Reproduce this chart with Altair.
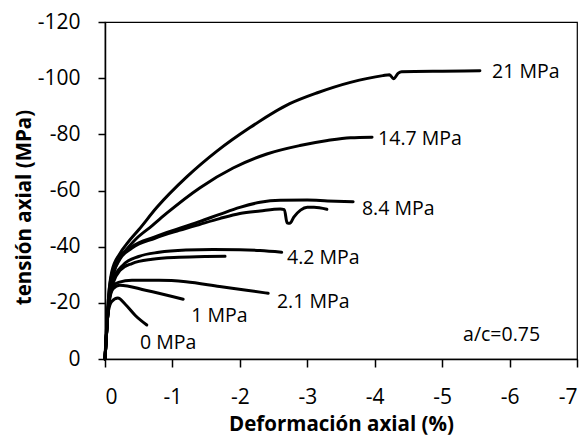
import altair as alt
import pandas as pd

# ---- data ----
x_0 = [0, -0.02, -0.05, -0.1, -0.19, -0.3, -0.45, -0.62]
y_0 = [0, -10, -17, -20.5, -21.7, -19.5, -15.5, -12.1]

x_1 = [0, -0.03, -0.06, -0.12, -0.22, -0.6, -1.16]
y_1 = [0, -12, -20, -25, -26.3, -24.5, -21.3]

x_21 = [0, -0.03, -0.06, -0.12, -0.2, -0.4, -0.8, -1.2, -1.7, -2.1, -2.42]
y_21 = [0, -12, -20, -26, -27.3, -28, -28, -27.5, -25.8, -24.5, -23.4]

x_42 = [0, -0.03, -0.06, -0.12, -0.27, -0.5, -0.8, -1.2, -1.6, -2.0, -2.3, -2.62]
y_42 = [0, -12, -21, -28, -33.5, -36.5, -38, -38.8, -39, -38.9, -38.6, -38.0]

x_42b = [0, -0.03, -0.06, -0.12, -0.22, -0.4, -0.7, -1.1, -1.5, -1.78]
y_42b = [0, -12, -21, -27, -31.5, -34, -35.5, -36.2, -36.5, -36.6]

x_84 = [0, -0.03, -0.06, -0.12, -0.22, -0.4, -0.74, -1.1, -1.41, -1.7, -2.0, -2.3, -2.6, -3.0, -3.3, -3.68]
y_84 = [0, -12, -22, -30, -36, -40, -43.5, -46.5, -49, -51.5, -54.0, -55.8, -56.5, -56.6, -56.3, -56.0]

x_84b = [0, -0.03, -0.06, -0.12, -0.22, -0.4, -0.74, -1.1, -1.41, -1.7, -2.0, -2.3, -2.6, -2.66,
         -2.70, -2.74, -2.8, -2.9, -3.0, -3.1, -3.29]
y_84b = [0, -12, -22, -30, -35.5, -39.5, -43, -45.8, -48, -50, -51.8, -52.7, -53.4, -53.2,
         -48.5, -48.3, -50.5, -53, -54, -54, -53.3]

x_147 = [0, -0.03, -0.05, -0.1, -0.2, -0.3, -0.47, -0.7, -0.92, -1.41, -1.9, -2.4, -2.89, -3.3, -3.64, -3.96]
y_147 = [0, -12, -21, -30, -35.5, -38.5, -43, -47.5, -52, -61, -68, -73, -76, -77.8, -78.8, -79]

x_210 = [0, -0.03, -0.05, -0.1, -0.22, -0.34, -0.5, -0.77, -1.22, -1.66, -2.15, -2.74, -3.15, -3.64,
         -4.12, -4.22, -4.28, -4.35, -4.4, -5.0, -5.56]
y_210 = [0, -12, -21, -31, -37.5, -41.5, -46, -54, -65, -74, -82.4, -90.9, -94.8, -98.5,
         -100.9, -101.2, -99.8, -101.8, -102.3, -102.5, -102.6]

series = {
    "0": (x_0, y_0), "1": (x_1, y_1), "2.1": (x_21, y_21), "4.2": (x_42, y_42),
    "4.2b": (x_42b, y_42b), "8.4": (x_84, y_84), "8.4b": (x_84b, y_84b),
    "14.7": (x_147, y_147), "21": (x_210, y_210),
}

label_text = ["21 MPa", "14.7 MPa", "8.4 MPa", "4.2 MPa", "2.1 MPa", "1 MPa", "0 MPa", "a/c=0.75"]
label_x = [-5.74, -4.05, -3.81, -2.70, -2.55, -1.28, -0.52, -5.31]
label_y = [-102.3, -78.5, -53.3, -35.9, -20.2, -15.3, -5.7, -8.5]

x_ticks = [0, -1, -2, -3, -4, -5, -6, -7]
y_ticks = [0, -20, -40, -60, -80, -100, -120]

rows = []
for name, (xs, ys) in series.items():
    for i, (xv, yv) in enumerate(zip(xs, ys)):
        rows.append({"s": name, "i": i, "x": xv, "y": yv})
df = pd.DataFrame(rows)
lab = pd.DataFrame({"t": label_text, "x": label_x, "y": label_y})

FONT = "Open Sans"

xscale = alt.Scale(domain=[-7, 0], reverse=True, nice=False, zero=False)
yscale = alt.Scale(domain=[-120, 0], reverse=True, nice=False, zero=False)

lines = alt.Chart(df).mark_line(color="black", strokeWidth=3, strokeJoin="round", strokeCap="round",
                                interpolate="monotone").encode(
    x=alt.X("x:Q", scale=xscale,
            axis=alt.Axis(title="Deformación axial (%)", values=x_ticks,
                          labelExpr="toString(datum.value)",
                          tickSize=8, labelPadding=19, titlePadding=7)),
    y=alt.Y("y:Q", scale=yscale,
            axis=alt.Axis(title="tensión axial (MPa)", values=y_ticks,
                          labelExpr="toString(datum.value)",
                          tickSize=7, labelPadding=18, titlePadding=3, titleY=185)),
    detail="s:N",
    order="i:Q",
)

texts = alt.Chart(lab).mark_text(align="left", baseline="middle", font=FONT, fontSize=19.5, color="black").encode(
    x=alt.X("x:Q", scale=xscale),
    y=alt.Y("y:Q", scale=yscale),
    text="t:N",
)

chart = alt.layer(lines, texts).properties(
    width=472, height=337,
    background="white",
    padding={"left": 105, "top": 22, "right": 10, "bottom": 77},
    autosize=alt.AutoSizeParams(type="none"),
).configure_view(stroke="black", strokeWidth=1.2).configure_axis(
    grid=False, domainColor="black", domainWidth=1.5, tickColor="black", tickWidth=1.5,
    labelFont=FONT, labelFontSize=21, labelColor="black",
    titleFont=FONT, titleFontSize=20.5, titleFontWeight="bold", titleColor="black",
)

chart.save("out.html", embed_options={"renderer": "svg", "actions": False})
